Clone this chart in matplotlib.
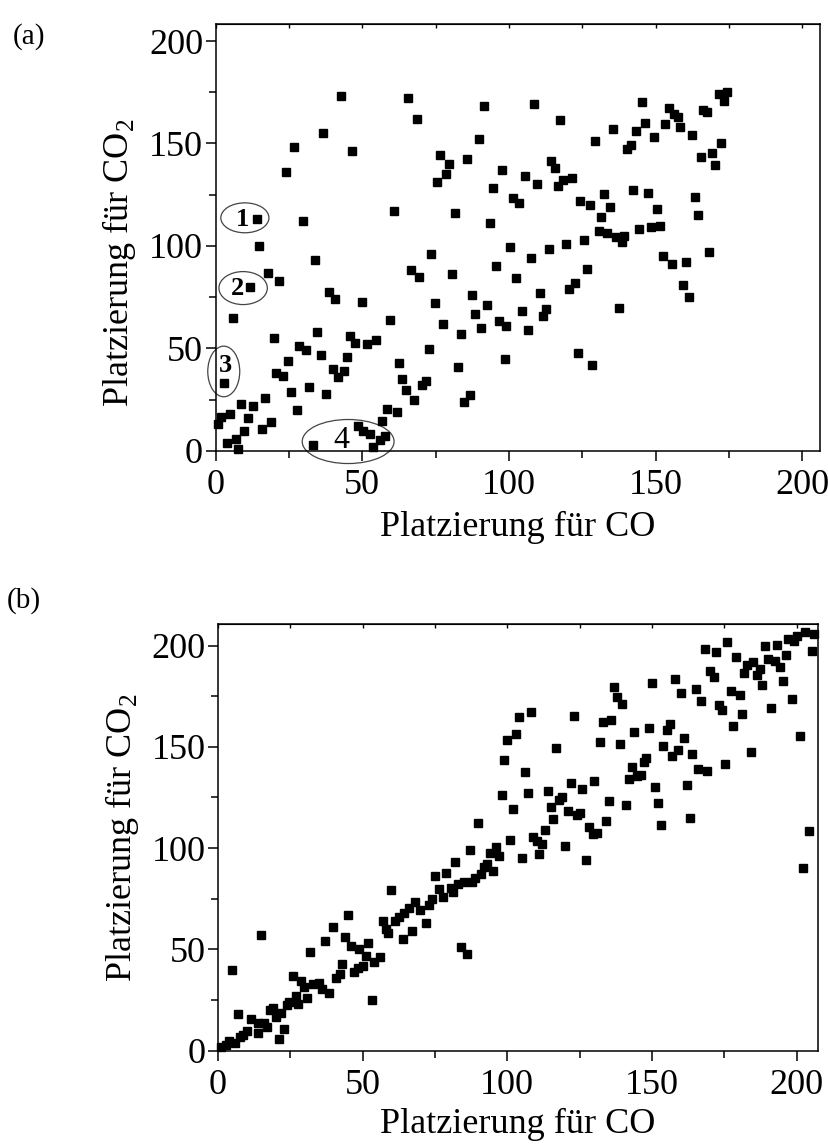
import matplotlib
matplotlib.use('Agg')
import matplotlib.pyplot as plt
from matplotlib.patches import Ellipse
import numpy as np

plt.rcParams['font.family'] = ['Liberation Serif', 'DejaVu Serif']
plt.rcParams['mathtext.fontset'] = 'custom'
plt.rcParams['mathtext.rm'] = 'Liberation Serif'

# panel (a): ranking CO vs CO2
a_co = [42.8, 65.7, 68.6, 91.6, 36.7, 26.8, 46.6, 89.7, 76.6, 79.5, 78.5, 75.4, 85.6, 97.6, 94.5,
        23.9, 60.7, 81.6, 93.5, 29.9, 14.0, 14.9, 100.4, 108.6, 117.5, 145.4, 154.4, 156.4, 157.5,
        166.1, 167.4, 171.5, 174.3, 173.4, 146.4, 153.3, 158.4, 143.4, 149.4, 135.5, 129.4, 162.4,
        141.5, 140.3, 172.3, 169.3, 165.5, 170.3, 105.6, 109.6, 114.4, 115.6, 118.6, 121.5, 116.6,
        101.5, 103.5, 124.4, 127.6, 132.5, 134.5, 131.5, 142.4, 147.4, 150.4, 163.4, 164.4,
        113.5, 119.5, 125.5, 130.6, 133.4, 136.5, 139.3, 138.5, 144.4, 148.4, 151.5, 168.3,
        33.9, 17.9, 21.6, 11.7, 5.9, 38.7, 40.7, 49.8, 66.5, 69.4, 73.4, 80.6, 95.6, 74.7, 77.6,
        87.5, 92.6, 88.5, 90.6, 83.7, 96.5, 99.0, 98.6, 59.5, 34.6, 45.7, 47.6, 51.7, 54.8, 28.6,
        30.9, 19.9, 35.8, 44.7, 72.6, 39.9, 43.8, 41.7, 24.8, 20.5, 22.9, 62.6, 63.5, 64.8, 67.7,
        70.4, 71.9, 82.5, 84.7, 86.8, 2.8, 25.8, 31.8, 37.6, 27.7, 16.8, 12.8, 8.7, 4.9, 1.7, 0.9,
        10.9, 9.8, 15.8, 18.9, 3.8, 6.9, 7.8, 33.1, 48.6, 50.3, 52.8, 56.0, 53.7, 57.8, 56.7, 58.6,
        61.8, 107.6, 102.5, 110.6, 126.5, 122.5, 120.6, 104.5, 112.5, 111.5, 106.6, 123.5, 128.4,
        137.5, 152.5, 155.5, 160.5, 159.4, 161.4]
a_co2 = [173.2, 172.0, 162.0, 168.3, 155.0, 148.1, 146.2, 152.2, 144.2, 140.0, 135.1, 131.2, 142.3,
         137.1, 128.1, 136.3, 117.1, 116.1, 111.2, 112.0, 113.2, 100.1, 99.5, 169.1, 161.3, 170.2,
         167.2, 164.2, 163.1, 166.3, 165.2, 174.1, 175.3, 170.9, 160.1, 159.3, 158.2, 156.1, 153.2,
         157.1, 151.1, 154.1, 149.3, 147.2, 150.1, 145.2, 143.3, 139.4, 134.1, 130.1, 141.3, 138.2,
         132.2, 133.0, 129.3, 123.3, 121.0, 122.0, 120.0, 125.2, 119.0, 114.0, 127.2, 126.0, 118.0,
         123.9, 115.1, 98.7, 101.0, 103.1, 107.2, 106.2, 104.4, 105.0, 101.8, 108.1, 109.1, 109.9,
         97.0, 93.0, 87.0, 82.9, 80.0, 64.7, 77.7, 74.0, 72.8, 88.0, 84.9, 96.1, 86.2, 90.2, 72.0,
         61.8, 76.1, 71.1, 66.8, 59.8, 56.9, 63.1, 61.0, 44.9, 63.9, 57.9, 56.1, 52.8, 52.0, 54.0,
         51.2, 49.1, 55.0, 46.8, 45.9, 49.8, 39.9, 38.9, 36.1, 43.9, 37.9, 36.7, 42.8, 34.8, 29.6,
         24.9, 32.0, 33.8, 41.0, 23.9, 27.0, 33.0, 28.8, 30.9, 27.8, 19.7, 25.7, 21.8, 22.9, 18.0,
         16.7, 13.2, 15.8, 9.6, 10.7, 14.0, 4.0, 5.7, 1.0, 2.8, 11.9, 9.6, 8.3, 5.0, 1.8, 7.0, 14.6,
         20.6, 18.9, 94.0, 84.1, 76.9, 88.9, 82.0, 78.9, 68.1, 69.1, 65.9, 58.9, 47.8, 42.0, 69.9,
         95.0, 91.1, 92.0, 81.0, 75.0]

# panel (b)
b_co = [59.9, 68.0, 66.0, 64.4, 62.5, 61.1, 57.1, 58.1, 58.8, 67.0, 63.9, 45.0, 39.9, 36.9, 43.9,
        45.9, 48.8, 51.9, 51.0, 56.1, 53.9, 50.0, 48.4, 46.9, 42.9, 42.0, 40.7, 31.8, 14.9, 5.0,
        25.8, 28.7, 29.8, 33.0, 35.0, 35.9, 38.3, 30.9, 27.0, 27.8, 24.5, 23.9, 19.0, 17.8, 21.6,
        19.9, 22.8, 21.0, 53.1, 6.8, 11.5, 13.9, 15.9, 16.8, 13.9, 9.9, 8.8, 7.6, 5.8, 3.8, 2.6, 0.9,
        71.9, 69.8, 73.0, 73.9, 75.1, 76.3, 77.9, 78.8, 80.4, 81.1, 82.0, 83.0, 85.0, 87.1, 87.7,
        88.9, 90.9, 91.9, 93.1, 95.2, 94.0, 96.1, 97.0, 83.9, 86.2, 101.0, 105.2, 109.0, 110.2,
        112.1, 111.1, 113.0, 120.1, 127.1, 129.5, 130.9,
        137.0, 138.1, 139.8, 108.1, 104.0, 123.1, 133.0, 136.0, 103.1, 100.0, 117.0, 132.1, 139.1,
        99.0, 106.1, 98.1, 107.0, 102.1, 114.1, 122.0, 126.0, 130.1, 118.9, 117.9, 115.0, 121.1,
        124.1, 125.3, 135.1, 115.9, 134.2, 128.2, 90.0, 142.2, 141.1,
        203.1, 206.2, 200.1, 197.0, 199.0, 205.2, 193.1, 189.2, 196.2, 190.3, 192.4, 194.3, 185.1,
        182.8, 187.3, 182.0, 186.2, 195.2, 188.2, 198.3, 191.2, 176.1, 168.2, 172.2, 179.1, 170.1,
        171.3, 177.2, 180.3, 173.3, 174.2, 181.2, 178.1, 201.2, 184.2, 158.1, 150.2, 165.2, 160.1,
        167.1, 156.1, 155.2, 149.1, 143.9, 161.1, 154.0, 159.1, 157.0, 164.0, 148.0, 147.1, 143.0,
        146.2, 144.8, 166.1, 169.2, 175.1, 151.2, 162.2, 152.1, 153.1, 163.1, 204.2, 202.2]
b_co2 = [79.2, 73.6, 70.4, 68.2, 65.9, 64.2, 64.1, 60.0, 58.0, 59.1, 55.2, 67.0, 61.1, 54.3, 56.2,
         51.9, 50.2, 53.1, 46.8, 46.1, 44.0, 42.0, 40.7, 38.7, 43.0, 37.9, 35.8, 48.9, 57.0, 40.0,
         36.9, 34.6, 31.6, 33.0, 33.3, 30.3, 28.4, 26.0, 27.0, 23.1, 24.2, 22.6, 20.9, 20.0, 18.8,
         16.8, 10.9, 5.8, 24.9, 18.0, 15.5, 13.5, 13.8, 11.9, 8.9, 9.9, 7.8, 6.6, 4.0, 4.9, 2.8, 2.0,
         62.9, 69.5, 72.0, 74.8, 86.3, 79.7, 76.1, 87.9, 80.5, 78.1, 93.1, 82.2, 83.5, 99.2, 83.5,
         85.2, 87.3, 90.9, 92.1, 88.9, 97.8, 100.5, 96.2, 51.1, 47.8, 104.1, 95.1, 105.4, 103.3,
         102.1, 97.2, 108.7, 101.1, 94.1, 107.1, 107.4,
         179.5, 174.6, 171.3, 167.3, 164.5, 165.4, 162.2, 163.4, 156.3, 153.4, 149.4, 152.4, 151.4,
         143.5, 137.4, 126.3, 127.3, 119.3, 128.3, 132.3, 129.3, 133.3, 125.2, 123.7, 120.1, 118.4,
         116.5, 117.3, 123.2, 114.3, 113.5, 110.4, 112.2, 134.2, 121.2,
         206.7, 205.7, 204.5, 203.4, 202.4, 197.5, 200.4, 199.6, 195.5, 193.5, 192.5, 189.4, 191.9,
         190.2, 188.6, 186.3, 185.3, 182.5, 180.5, 173.4, 169.3, 201.6, 198.5, 196.6, 194.5, 187.6,
         184.3, 177.7, 175.4, 170.5, 168.2, 166.4, 160.4, 155.3, 147.2, 183.5, 181.5, 178.4, 176.6,
         172.4, 161.4, 158.4, 159.4, 157.3, 154.3, 150.5, 148.4, 145.6, 146.4, 144.3, 142.3, 140.2,
         136.2, 135.4, 139.2, 138.2, 141.3, 130.3, 131.3, 122.2, 111.2, 115.1, 108.2, 90.1]

# circled groups in panel (a): label, centre, width, height, text position
groups = ['1', '2', '3', '4']
group_xy = [(10.0, 113.7), (9.4, 79.4), (2.8, 38.7), (45.2, 4.5)]
group_wh = [(16.4, 14.6), (16.5, 16.1), (10.9, 24.7), (31.3, 21.5)]
group_txt = [(9.3, 112.7), (7.4, 79.0), (3.4, 41.5), (42.8, 5.2)]

fig = plt.figure(figsize=(8.29, 11.44), dpi=100)
ax_a = fig.add_axes([0.260, 0.606, 0.729, 0.373])
ax_b = fig.add_axes([0.263, 0.0816, 0.724, 0.3727])


def style(ax, xmax, ymax, xlab_y, ylab_y):
    ax.set_xlim(0, xmax)
    ax.set_ylim(0, ymax)
    ax.set_xticks(np.arange(0, 201, 50))
    ax.set_yticks(np.arange(0, 201, 50))
    ax.set_xticks(np.arange(25, 200, 50), minor=True)
    ax.set_yticks(np.arange(25, 200, 50), minor=True)
    ax.tick_params(which='major', direction='out', length=7, width=1.1, labelsize=26)
    ax.tick_params(which='minor', direction='out', length=5, width=1.1)
    ax.tick_params(axis='x', which='major', pad=6)
    ax.tick_params(axis='y', which='major', pad=2)
    for s in ax.spines.values():
        s.set_linewidth(1.1)
    top = ax.secondary_xaxis('top')
    top.set_xticks(np.arange(0, 201, 25))
    top.tick_params(direction='in', length=3, width=1, labeltop=False)
    ax.set_xlabel('Platzierung für CO', fontsize=26)
    ax.set_ylabel('Platzierung für CO$_2$', fontsize=26)
    ax.xaxis.set_label_coords(0.5, xlab_y)
    ax.yaxis.set_label_coords(-0.128, ylab_y)


ax_a.plot(a_co, a_co2, 's', color='black', ms=5.2, clip_on=False)
style(ax_a, 206, 208.3, -0.14, 0.44)

for g, (cx, cy), (w, h), (tx, ty) in zip(groups, group_xy, group_wh, group_txt):
    ax_a.add_patch(Ellipse((cx, cy), w, h, fill=False, edgecolor='#444444', linewidth=0.9,
                           clip_on=False))
    if g == '4':
        ax_a.text(tx, ty, g, fontsize=23, ha='center', va='center')
    else:
        ax_a.text(tx, ty, g, fontsize=19, fontweight='bold', ha='center', va='center')

ax_b.plot(b_co, b_co2, 's', color='black', ms=5.2, clip_on=False)
style(ax_b, 207.5, 210.5, -0.135, 0.5)

fig.text(0.015, 0.980, '(a)', fontsize=21, va='top')
fig.text(0.008, 0.487, '(b)', fontsize=21, va='top')

fig.savefig('out.png', dpi=100)
